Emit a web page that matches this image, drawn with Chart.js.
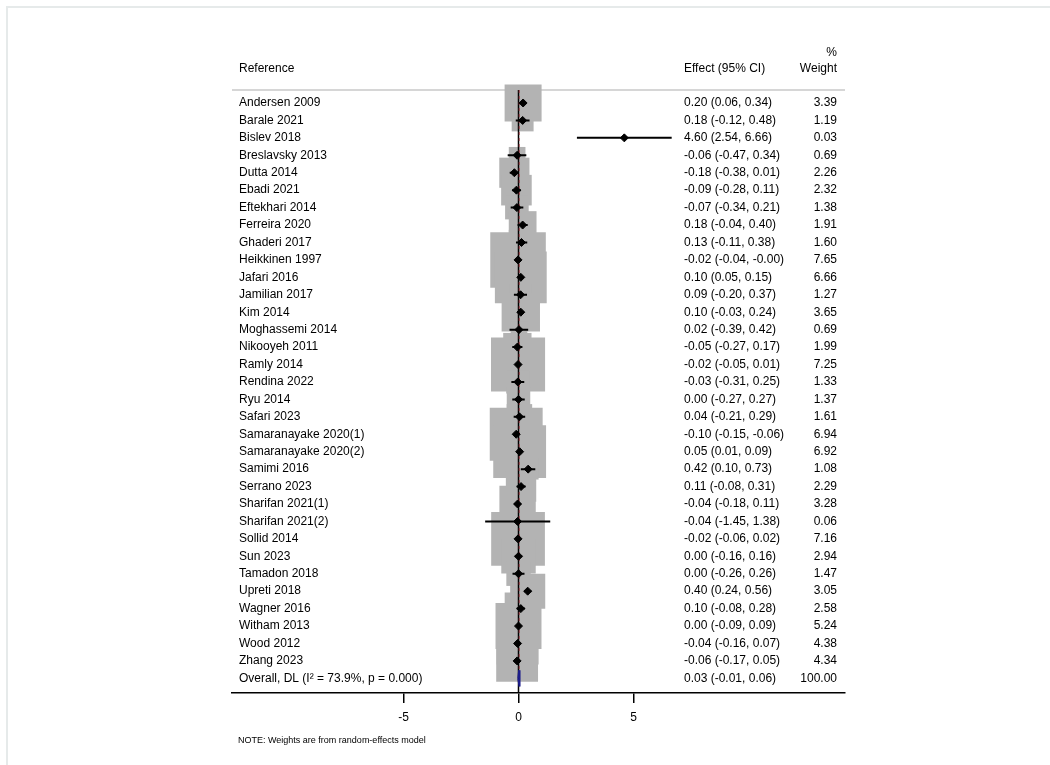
<!DOCTYPE html>
<html><head><meta charset="utf-8">
<script src="https://cdn.jsdelivr.net/npm/chart.js@4.4.0/dist/chart.umd.min.js"></script>
<style>html,body{margin:0;padding:0;background:#fff}canvas{display:block}</style>
</head><body>
<canvas id="c" width="1050" height="765"></canvas>
<script>
const studies = ['Andersen 2009','Barale 2021','Bislev 2018','Breslavsky 2013','Dutta 2014','Ebadi 2021','Eftekhari 2014','Ferreira 2020','Ghaderi 2017','Heikkinen 1997','Jafari 2016','Jamilian 2017','Kim 2014','Moghassemi 2014','Nikooyeh 2011','Ramly 2014','Rendina 2022','Ryu 2014','Safari 2023','Samaranayake 2020(1)','Samaranayake 2020(2)','Samimi 2016','Serrano 2023','Sharifan 2021(1)','Sharifan 2021(2)','Sollid 2014','Sun 2023','Tamadon 2018','Upreti 2018','Wagner 2016','Witham 2013','Wood 2012','Zhang 2023'];
const effects = [0.20,0.18,4.60,-0.06,-0.18,-0.09,-0.07,0.18,0.13,-0.02,0.10,0.09,0.10,0.02,-0.05,-0.02,-0.03,0.00,0.04,-0.10,0.05,0.42,0.11,-0.04,-0.04,-0.02,0.00,0.00,0.40,0.10,0.00,-0.04,-0.06];
const lowerCI = [0.06,-0.12,2.54,-0.47,-0.38,-0.28,-0.34,-0.04,-0.11,-0.04,0.05,-0.20,-0.03,-0.39,-0.27,-0.05,-0.31,-0.27,-0.21,-0.15,0.01,0.10,-0.08,-0.18,-1.45,-0.06,-0.16,-0.26,0.24,-0.08,-0.09,-0.16,-0.17];
const upperCI = [0.34,0.48,6.66,0.34,0.01,0.11,0.21,0.40,0.38,-0.004,0.15,0.37,0.24,0.42,0.17,0.01,0.25,0.27,0.29,-0.06,0.09,0.73,0.31,0.11,1.38,0.02,0.16,0.26,0.56,0.28,0.09,0.07,0.05];
const weights = [3.39,1.19,0.03,0.69,2.26,2.32,1.38,1.91,1.60,7.65,6.66,1.27,3.65,0.69,1.99,7.25,1.33,1.37,1.61,6.94,6.92,1.08,2.29,3.28,0.06,7.16,2.94,1.47,3.05,2.58,5.24,4.38,4.34];
const overallLabel = ['Overall, DL (I\u00B2 = 73.9%, p = 0.000)'];
const overallEffect = [0.03];
const overallLower = [-0.01];
const overallUpper = [0.06];
const overallWeight = [100.00];
const xTickValues = [-5, 0, 5];

const FONT = '"Liberation Sans", Arial, Helvetica, sans-serif';
const nRows = studies.length;           // overall row index = nRows
const Y_TOP = -0.745, Y_BOTTOM = 33.84;
const DIAMOND_HALF = 0.47;
const BOX_K = 14.2;                      // point radius per sqrt(weight)

const fmt = v => v.toFixed(2);

const boxData = studies.map((s, i) => ({x: effects[i], y: i}));
const ciData = [];
studies.forEach((s, i) => {
  ciData.push({x: lowerCI[i], y: i}, {x: upperCI[i], y: i}, {x: null, y: null});
});
const oRow = nRows;
const overallDiamond = [
  {x: overallLower[0], y: oRow},
  {x: overallEffect[0], y: oRow - DIAMOND_HALF},
  {x: overallUpper[0], y: oRow},
  {x: overallEffect[0], y: oRow + DIAMOND_HALF},
  {x: overallLower[0], y: oRow}
];

const textPlugin = {
  id: 'forestText',
  beforeDraw(chart) {
    const ctx = chart.ctx;
    ctx.save();
    ctx.strokeStyle = '#e6eaea';
    ctx.lineWidth = 2;
    ctx.strokeRect(7, 7, 1200, 1200);
    ctx.restore();
  },
  beforeDatasetsDraw(chart) {
    const ctx = chart.ctx, a = chart.chartArea;
    ctx.save();
    ctx.strokeStyle = '#c8c8c8';
    ctx.lineWidth = 1.5;
    ctx.beginPath();
    ctx.moveTo(a.left, a.top);
    ctx.lineTo(a.right, a.top);
    ctx.stroke();
    ctx.restore();
  },
  afterDraw(chart) {
    const ctx = chart.ctx, y = chart.scales.y;
    ctx.save();
    ctx.fillStyle = '#000';
    ctx.font = '12px ' + FONT;
    ctx.textBaseline = 'middle';
    const xName = 239, xEff = 684, xW = 837;
    // header
    ctx.textAlign = 'left';
    ctx.fillText('Reference', xName, 69);
    ctx.fillText('Effect (95% CI)', xEff, 69);
    ctx.textAlign = 'right';
    ctx.fillText('%', xW, 53);
    ctx.fillText('Weight', xW, 69);
    studies.forEach((s, i) => {
      const py = y.getPixelForValue(i);
      ctx.textAlign = 'left';
      ctx.fillText(s, xName, py);
      ctx.fillText(fmt(effects[i]) + ' (' + fmt(lowerCI[i]) + ', ' + fmt(upperCI[i]) + ')', xEff, py);
      ctx.textAlign = 'right';
      ctx.fillText(fmt(weights[i]), xW, py);
    });
    const po = y.getPixelForValue(oRow);
    ctx.textAlign = 'left';
    ctx.fillText(overallLabel[0], xName, po);
    ctx.fillText(fmt(overallEffect[0]) + ' (' + fmt(overallLower[0]) + ', ' + fmt(overallUpper[0]) + ')', xEff, po);
    ctx.textAlign = 'right';
    ctx.fillText(fmt(overallWeight[0]), xW, po);
    // note
    ctx.textAlign = 'left';
    ctx.font = '9px ' + FONT;
    ctx.fillText('NOTE: Weights are from random-effects model', 238, 741);
    ctx.restore();
  }
};

new Chart(document.getElementById('c'), {
  type: 'scatter',
  data: {
    datasets: [
      { // overall diamond
        data: overallDiamond, showLine: true, borderColor: '#1c1c8a', backgroundColor: '#1c1c8a',
        borderWidth: 2, pointRadius: 0, fill: false, order: 0
      },
      { // study point estimates
        data: boxData, pointStyle: 'rectRot', pointRadius: 4, backgroundColor: '#000',
        borderColor: '#000', borderWidth: 1, order: 1, clip: false
      },
      { // confidence intervals
        data: ciData, showLine: true, spanGaps: false, borderColor: '#000', borderWidth: 2,
        pointRadius: 0, order: 2
      },
      { // overall effect dashed line
        data: [{x: overallEffect[0], y: Y_TOP}, {x: overallEffect[0], y: oRow - DIAMOND_HALF}],
        showLine: true, borderColor: 'rgba(160,50,60,0.85)', borderWidth: 1, borderDash: [3, 3],
        pointRadius: 0, order: 3
      },
      { // no-effect line
        data: [{x: 0, y: Y_TOP}, {x: 0, y: Y_BOTTOM}], showLine: true, borderColor: '#000',
        borderWidth: 1.5, pointRadius: 0, order: 4
      },
      { // weight boxes
        data: boxData, pointStyle: 'rect', backgroundColor: '#b3b3b3', borderWidth: 0,
        pointRadius: ctx => BOX_K * Math.sqrt(weights[ctx.dataIndex]), order: 5, clip: false
      }
    ]
  },
  options: {
    responsive: false,
    animation: false,
    events: [],
    layout: { autoPadding: false, padding: { left: 232, right: 205, top: 90, bottom: 0 } },
    plugins: { legend: { display: false }, tooltip: { enabled: false } },
    scales: {
      x: {
        type: 'linear', min: -12.457, max: 14.196,
        afterFit: s => { s.height = 72; },
        afterBuildTicks: s => { s.ticks = xTickValues.map(v => ({value: v})); },
        grid: { display: true, drawOnChartArea: false, drawTicks: true, tickLength: 10, color: '#000', lineWidth: 1.5 },
        border: { display: true, color: '#000', width: 1.5 },
        ticks: { color: '#000', font: { family: FONT, size: 12 }, padding: 7, maxRotation: 0 }
      },
      y: {
        type: 'linear', reverse: true, min: Y_TOP, max: Y_BOTTOM, display: false
      }
    }
  },
  plugins: [textPlugin]
});
</script>
</body></html>
